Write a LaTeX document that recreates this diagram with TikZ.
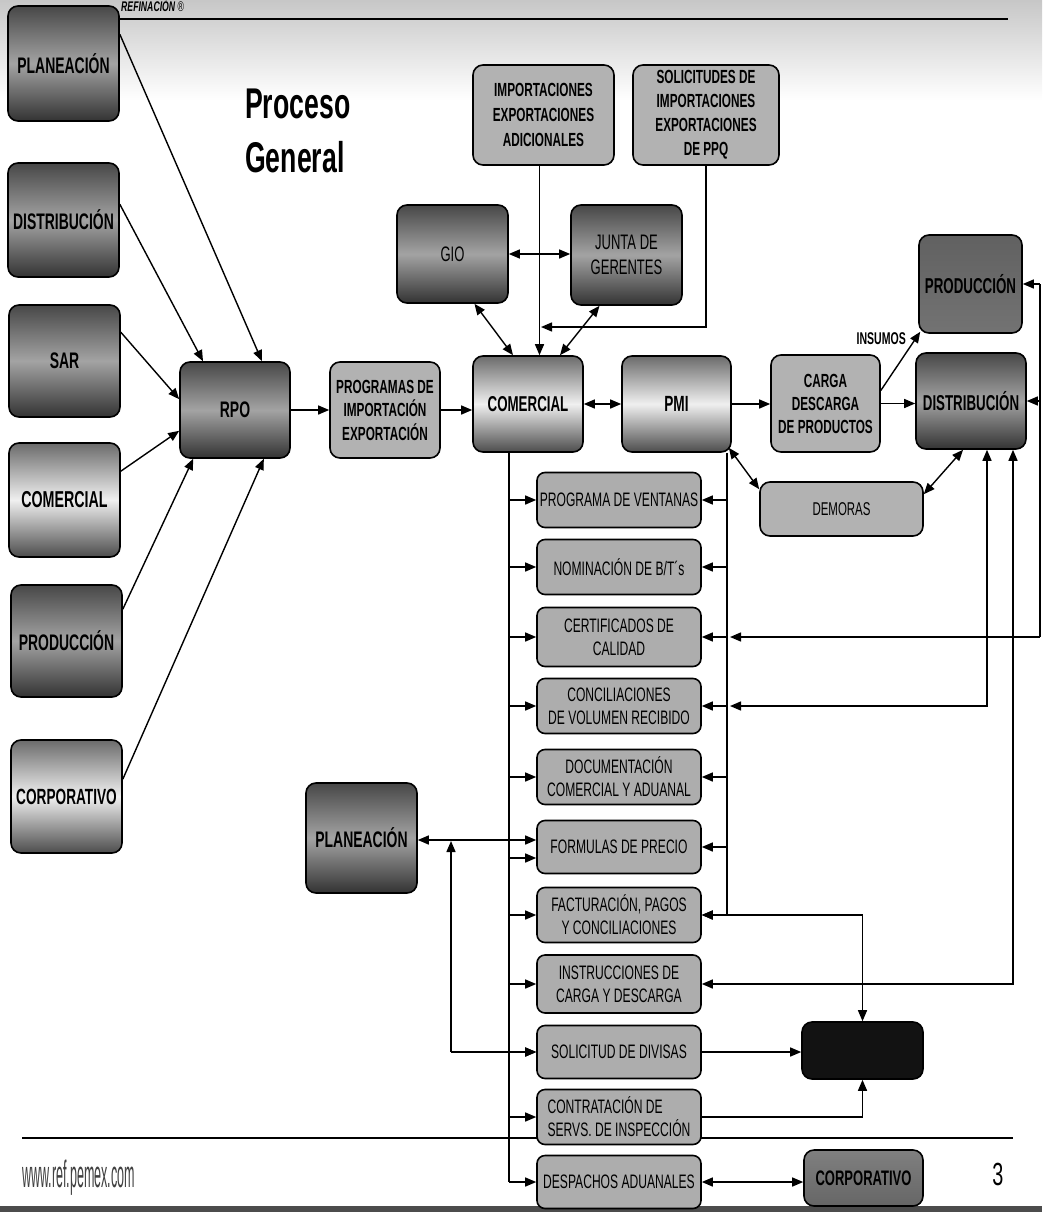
\documentclass[tikz,border=0pt]{standalone}
\usepackage{fontspec}
\setmainfont{Liberation Sans}[FakeStretch=0.62]
\newfontfamily\urlfont{Liberation Sans}[FakeStretch=0.33]
\usetikzlibrary{arrows.meta,calc}
\tikzset{
  box/.style={draw=black, line width=1.6pt, rounded corners=10pt, inner sep=2pt, align=center, text=black},
  darkbox/.style={box, top color=black!72, bottom color=black!80, middle color=black!36,
    font=\fontsize{22.5}{24}\selectfont\bfseries},
  medbox/.style={box, top color=black!58, bottom color=black!70, middle color=black!6,
    font=\fontsize{22}{24}\selectfont\bfseries},
  lightbox/.style={box, fill=black!30, font=\fontsize{19}{23.5}\selectfont\bfseries},
  listbox/.style={box, rounded corners=8pt, fill=black!32, minimum width=164pt, minimum height=55pt,
    font=\fontsize{19.5}{23}\selectfont},
  ln/.style={line width=1.4pt},
  arr/.style={line width=1.4pt, -{Triangle[length=11pt,width=9pt]}},
  darr/.style={line width=1.4pt, {Triangle[length=11pt,width=9pt]}-{Triangle[length=11pt,width=9pt]}},
}
\begin{document}
\begin{tikzpicture}[x=1pt,y=-1pt]
\useasboundingbox (0,0) rectangle (1042,1212);
\clip (0,0) rectangle (1042,1212);
\fill[white] (0,0) rectangle (1042,1212);
\fill[top color=black!22, bottom color=white] (0,0) rectangle (1042,100);
\fill[black!70] (0,1206) rectangle (1042,1212);

% header and footer rules
\draw[line width=1.6pt] (119,19) -- (1008,19);
\draw[line width=1.6pt] (22,1138) -- (1013,1138);

% texts
\node[font=\fontsize{14}{14}\selectfont\bfseries\itshape, anchor=base west, inner sep=0] (ref) at (121,12) {REFINACIÓN {\mdseries\upshape ®}};
\node[font=\fontsize{43}{43}\selectfont\bfseries, anchor=base west, inner sep=0] (t1) at (245,118) {Proceso};
\node[font=\fontsize{43}{43}\selectfont\bfseries, anchor=base west, inner sep=0] (t2) at (245,172) {General};
\node[font=\urlfont\fontsize{38}{38}\selectfont, text=black!75, anchor=base west, inner sep=0] (url) at (22,1187) {www.ref.pemex.com};
\node[font=\fontsize{32}{32}\selectfont, anchor=base, inner sep=0] (pg) at (998,1185) {3};

% left column
\node[darkbox, minimum width=111pt, minimum height=115pt] (planL) at (63.5,63.5) {PLANEACIÓN};
\node[darkbox, minimum width=111pt, minimum height=114pt] (distL) at (63.5,220) {DISTRIBUCIÓN};
\node[darkbox, minimum width=111pt, minimum height=112pt] (sarL) at (64.5,361) {SAR};
\node[medbox, font=\fontsize{23}{24}\selectfont\bfseries, minimum width=111pt, minimum height=114pt] (comL) at (64.5,500) {COMERCIAL};
\node[darkbox, minimum width=111pt, minimum height=112pt] (prodL) at (66.5,641) {PRODUCCIÓN};
\node[medbox, minimum width=111pt, minimum height=113pt] (corpL) at (66.5,796.5) {CORPORATIVO};

% main row
\node[darkbox, minimum width=110pt, minimum height=96pt] (rpo) at (235,410) {RPO};
\node[lightbox, minimum width=110pt, minimum height=96pt] (prog) at (385,410) {PROGRAMAS DE\\IMPORTACIÓN\\EXPORTACIÓN};
\node[medbox, font=\fontsize{21.5}{24}\selectfont\bfseries, minimum width=110pt, minimum height=96pt] (comC) at (528,404) {COMERCIAL};
\node[medbox, minimum width=109pt, minimum height=96pt] (pmi) at (676.5,404) {PMI};
\node[lightbox, font=\fontsize{19}{23}\selectfont\bfseries, minimum width=109pt, minimum height=97pt] (carga) at (825.5,403.5) {CARGA\\DESCARGA\\DE PRODUCTOS};
\node[darkbox, font=\fontsize{21.5}{24}\selectfont\bfseries, minimum width=110pt, minimum height=96pt] (distR) at (971,401) {DISTRIBUCIÓN};
\node[medbox, font=\fontsize{21.5}{24}\selectfont\bfseries, top color=black!62, middle color=black!14, bottom color=black!55, minimum width=103pt, minimum height=98pt] (prodR) at (970.5,284) {PRODUCCIÓN};
\node[lightbox, font=\fontsize{18.5}{20}\selectfont, minimum width=163pt, minimum height=54pt] (dem) at (841.5,509) {DEMORAS};

% top group
\node[lightbox, font=\fontsize{19}{25}\selectfont\bfseries, minimum width=141pt, minimum height=100pt] (imp) at (543.5,115) {IMPORTACIONES\\EXPORTACIONES\\ADICIONALES};
\node[lightbox, font=\fontsize{19}{24}\selectfont\bfseries, minimum width=146pt, minimum height=100pt] (sol) at (706,115) {SOLICITUDES DE\\IMPORTACIONES\\EXPORTACIONES\\DE PPQ};
\node[darkbox, font=\fontsize{21}{25}\selectfont, minimum width=111pt, minimum height=98pt] (gio) at (452.5,254) {GIO};
\node[darkbox, font=\fontsize{21}{25}\selectfont, minimum width=111pt, minimum height=100pt] (junta) at (626.5,255) {JUNTA DE\\GERENTES};

% lower part
\node[darkbox, minimum width=111pt, minimum height=110pt] (planeM) at (361.5,838) {PLANEACIÓN};
\node[box, fill=black!93, minimum width=121pt, minimum height=57pt] (blk) at (862.5,1050.5) {};
\node[medbox, font=\fontsize{21}{24}\selectfont\bfseries, top color=black!50, middle color=black!15, bottom color=black!60, minimum width=119pt, minimum height=56pt] (corpB) at (863.5,1178) {CORPORATIVO};

% list
\node[listbox] (l1) at (619,500) {PROGRAMA DE VENTANAS};
\node[listbox] (l2) at (619,567) {NOMINACIÓN DE B/T´s};
\node[listbox, minimum height=59pt] (l3) at (619,637) {CERTIFICADOS DE\\CALIDAD};
\node[listbox] (l4) at (619,706) {CONCILIACIONES\\DE VOLUMEN RECIBIDO};
\node[listbox] (l5) at (619,777) {DOCUMENTACIÓN\\COMERCIAL Y ADUANAL};
\node[listbox, minimum height=53pt] (l6) at (619,847) {FORMULAS DE PRECIO};
\node[listbox] (l7) at (619,915) {FACTURACIÓN, PAGOS\\Y CONCILIACIONES};
\node[listbox, minimum height=58pt] (l8) at (619,984) {INSTRUCCIONES DE\\CARGA Y DESCARGA};
\node[listbox, minimum height=53pt] (l9) at (619,1052) {SOLICITUD DE DIVISAS};
\node[listbox, align=left] (l10) at (619,1117) {CONTRATACIÓN DE\\SERVS. DE INSPECCIÓN};
\node[listbox, minimum height=53pt] (l11) at (619,1182) {DESPACHOS ADUANALES};

% connectors to RPO
\draw[arr] ([yshift=-29pt]planL.north east) -- ([xshift=27pt]rpo.north);
\draw[arr] ([yshift=-42pt]distL.north east) -- ([xshift=-32pt]rpo.north);
\draw[arr] ([yshift=-28pt]sarL.north east) -- ([yshift=-38pt]rpo.north west);
\draw[arr] ([yshift=-29pt]comL.north east) -- ([yshift=28pt]rpo.south west);
\draw[arr] ([yshift=-25pt]prodL.north east) -- ([xshift=14pt]rpo.south west);
\draw[arr] ([yshift=-40pt]corpL.north east) -- ([xshift=-27pt]rpo.south east);

% main row
\draw[arr] (rpo) -- (prog);
\draw[arr] (prog.east) -- (prog.east -| comC.west);
\draw[darr] (comC) -- (pmi);
\draw[arr] (pmi.east) -- (pmi.east -| carga.west);
\draw[arr] (carga.east) -- (carga.east -| distR.west);
\draw[arr] ([yshift=13pt]carga.east) -- ([xshift=2pt,yshift=2pt]prodR.south west);
\node[font=\fontsize{17}{17}\selectfont\bfseries, anchor=base east, inner sep=0] (ins) at (906,344) {INSUMOS};
\draw[darr] ([xshift=-3pt,yshift=5pt]pmi.south east) -- ([yshift=-8pt]dem.north west);
\draw[darr] ([yshift=-13pt]dem.north east) -- ([xshift=-8pt]distR.south);

% top group
\draw[darr] (gio.east) -- (gio.east -| junta.west);
\draw[darr] ([xshift=22pt]gio.south) -- ([xshift=-15pt]comC.north);
\draw[darr] ([xshift=-27pt]junta.south) -- ([xshift=32pt]comC.north);
\draw[arr] ([xshift=-4pt]imp.south) -- ([xshift=-4pt]imp.south |- comC.north);
\coordinate (solj) at (541,327);
\draw[arr] (sol.south) |- (solj);

% COMERCIAL trunk
\coordinate (ct) at ([xshift=-19pt]comC.south);
\draw[ln] (ct) -- (ct |- l11.west);
\foreach \n in {l1,l2,l3,l4,l5,l7,l8,l9,l10,l11} {
  \draw[arr] (ct |- \n.west) -- (\n.west);
}
\draw[arr] ($(ct |- l6.west)+(0,11)$) -- ([yshift=-11pt]l6.west);

% PMI trunk
\coordinate (pt) at ([xshift=50.5pt]pmi.south);
\draw[ln] (pt) -- (pt |- l7.east);
\foreach \n in {l1,l2,l3,l4,l5,l6,l7} {
  \draw[arr] (pt |- \n.east) -- (\n.east);
}

% right edge
\coordinate (re1) at (1040,284);
\coordinate (re3) at (1040,637);
\draw[ln] (re1) -- (re3);
\draw[arr] (re1) -- (prodR.east);
\draw[arr] (re1 |- distR.east) -- (distR.east);
\draw[arr] (re3) -- ($(re3 -| pt)+(3,0)$);

% DISTRIBUCION bottom lines
\coordinate (d1) at ([xshift=16pt]distR.south);
\coordinate (d2) at ([xshift=42pt]distR.south);
\draw[darr] (d1) |- ($(l4.east -| pt)+(3,0)$);
\draw[darr] (d2) |- (l8.east);

% black box links
\draw[darr] (l7.east) -| (blk.north);
\draw[arr] (l9.east) -- (l9.east -| blk.west);
\draw[arr] (l10.east) -| (blk.south);
\draw[darr] (l11.east) -- (l11.east -| corpB.west);

% PLANEACION middle
\draw[darr] ([yshift=-2pt]planeM.east) -- ([yshift=-2pt]planeM.east -| l6.west);
\coordinate (pj) at (451,1052);
\draw[arr] (pj) -- ($(pj |- planeM.east)+(0,3)$);
\draw[arr] (pj) -- (l9.west);
\end{tikzpicture}
\end{document}
